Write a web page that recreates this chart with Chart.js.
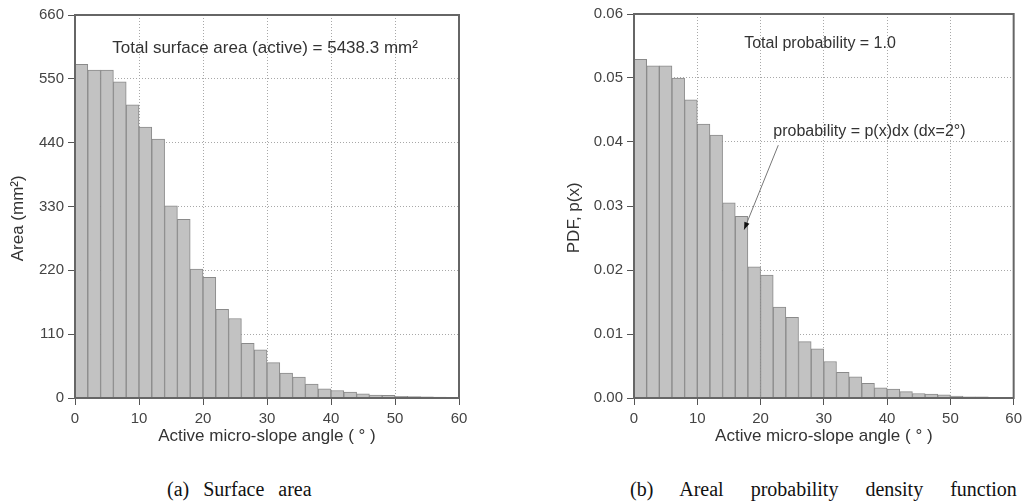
<!DOCTYPE html>
<html>
<head>
<meta charset="utf-8">
<script src="https://cdn.jsdelivr.net/npm/chart.js@4/dist/chart.umd.min.js"></script>
<style>
  body { margin: 0; background: #fff; width: 1027px; height: 504px; position: relative; overflow: hidden; }
  .box { position: absolute; top: 0; height: 450px; }
  .cap { position: absolute; top: 478px; font-family: "Liberation Serif", "Times New Roman", serif; font-size: 20px; color: #111; white-space: pre; }
</style>
</head>
<body>
<div class="box" style="left:0;width:500px"><canvas id="areaChart"></canvas></div>
<div class="box" style="left:520px;width:507px"><canvas id="pdfChart"></canvas></div>
<div class="cap" style="left:167px;word-spacing:9px">(a) Surface area</div>
<div class="cap" style="left:630px;word-spacing:22px">(b) Areal probability density function</div>

<script>
// bin centres (2 degree bins, 0-60)
const angles = [1, 3, 5, 7, 9, 11, 13, 15, 17, 19, 21, 23, 25, 27, 29,
                31, 33, 35, 37, 39, 41, 43, 45, 47, 49, 51, 53, 55, 57, 59];

// surface area per bin (mm^2)
const areaValues = [575, 565, 565, 545, 505, 467, 446, 331, 308, 222, 208, 153, 137, 94, 83,
                    61, 43, 36, 24, 16, 13, 10, 7, 5, 4.5, 3, 2.5, 2, 1.5, 1];

// areal probability density p(x)
const pdfValues = [0.0529, 0.0519, 0.0519, 0.0500, 0.0466, 0.0428, 0.0411, 0.0305, 0.0284, 0.0205,
                   0.0192, 0.0142, 0.0126, 0.0088, 0.0077, 0.0057, 0.0040, 0.0033, 0.0023, 0.0016,
                   0.0014, 0.0010, 0.0007, 0.0006, 0.0005, 0.0003, 0.0002, 0.0002, 0.0001, 0.0001];

const xTicks = [0, 10, 20, 30, 40, 50, 60];
const areaTicks = [0, 110, 220, 330, 440, 550, 660];
const pdfTicks = [0, 0.01, 0.02, 0.03, 0.04, 0.05, 0.06];

const FONT = "'Liberation Sans', Arial, sans-serif";
const AXIS = '#666';
const GRID = '#a8a8a8';

// draws the closed frame round the plot and the text notes
const framePlugin = {
    id: 'frame',
    afterDatasetsDraw(chart, args, opts) {
        const { ctx, chartArea: a, scales } = chart;
        ctx.save();
        ctx.strokeStyle = AXIS;
        ctx.lineWidth = 2;
        ctx.strokeRect(a.left, a.top, a.right - a.left, a.bottom - a.top);

        ctx.fillStyle = '#333';
        ctx.textAlign = 'center';
        ctx.textBaseline = 'middle';
        (opts.notes || []).forEach(n => {
            ctx.font = (n.size || 16) + 'px ' + FONT;
            ctx.fillText(n.text, scales.x.getPixelForValue(n.x), scales.y.getPixelForValue(n.y));
        });

        if (opts.arrow) {
            const x1 = scales.x.getPixelForValue(opts.arrow.from[0]);
            const y1 = scales.y.getPixelForValue(opts.arrow.from[1]);
            const x2 = scales.x.getPixelForValue(opts.arrow.to[0]);
            const y2 = scales.y.getPixelForValue(opts.arrow.to[1]);
            ctx.strokeStyle = '#777';
            ctx.lineWidth = 1;
            ctx.beginPath();
            ctx.moveTo(x1, y1);
            ctx.lineTo(x2, y2);
            ctx.stroke();
            const ang = Math.atan2(y2 - y1, x2 - x1);
            ctx.fillStyle = '#111';
            ctx.beginPath();
            ctx.moveTo(x2, y2);
            ctx.lineTo(x2 - 8 * Math.cos(ang - 0.35), y2 - 8 * Math.sin(ang - 0.35));
            ctx.lineTo(x2 - 8 * Math.cos(ang + 0.35), y2 - 8 * Math.sin(ang + 0.35));
            ctx.closePath();
            ctx.fill();
        }
        ctx.restore();
    }
};

function makeChart(id, values, yTicks, cfg) {
    return new Chart(document.getElementById(id), {
        type: 'bar',
        data: {
            datasets: [{
                data: angles.map((a, i) => ({ x: a, y: values[i] })),
                backgroundColor: '#c2c2c2',
                borderColor: '#8a8a8a',
                borderWidth: 1,
                barPercentage: 1,
                categoryPercentage: 1
            }]
        },
        options: {
            responsive: true,
            maintainAspectRatio: false,
            animation: false,
            layout: { padding: { top: cfg.top, right: cfg.right, left: 0, bottom: 0 } },
            plugins: {
                legend: { display: false },
                tooltip: { enabled: false },
                frame: { notes: cfg.notes, arrow: cfg.arrow }
            },
            scales: {
                x: {
                    type: 'linear',
                    min: 0,
                    max: 60,
                    offset: false,
                    afterBuildTicks: s => { s.ticks = xTicks.map(v => ({ value: v })); },
                    afterFit: s => { s.height = 52; },
                    grid: { color: GRID, tickColor: '#555', tickLength: 7, tickBorderDash: [], offset: false },
                    border: { color: AXIS, width: 2, dash: [1, 2] },
                    ticks: { color: '#444', font: { family: FONT, size: 15 }, padding: 5, maxRotation: 0 },
                    title: {
                        display: true,
                        text: 'Active micro-slope angle ( ° )',
                        color: '#333',
                        font: { family: FONT, size: 17 },
                        padding: { top: 0, bottom: 3 }
                    }
                },
                y: {
                    min: 0,
                    max: yTicks[yTicks.length - 1],
                    afterBuildTicks: s => { s.ticks = yTicks.map(v => ({ value: v })); },
                    afterFit: s => { s.width = cfg.yWidth; },
                    grid: { color: GRID, tickColor: '#555', tickLength: 7, tickBorderDash: [] },
                    border: { color: AXIS, width: 2, dash: [1, 2] },
                    ticks: { color: '#444', font: { family: FONT, size: 15 }, padding: 4, callback: cfg.fmt },
                    title: {
                        display: true,
                        text: cfg.yTitle,
                        color: '#333',
                        font: { family: FONT, size: 17 },
                        padding: { top: cfg.yTitlePad, bottom: 0 }
                    }
                }
            }
        },
        plugins: [framePlugin]
    });
}

makeChart('areaChart', areaValues, areaTicks, {
    top: 15, right: 41, yWidth: 75, yTitlePad: 8,
    yTitle: 'Area (mm²)     ',
    fmt: v => v,
    notes: [{ text: 'Total surface area (active) = 5438.3 mm²', x: 29.7, y: 603, size: 17 }]
});

makeChart('pdfChart', pdfValues, pdfTicks, {
    top: 14, right: 9, yWidth: 114, yTitlePad: 44,
    yTitle: 'PDF, p(x)     ',
    fmt: v => v.toFixed(2),
    notes: [
        { text: 'Total probability = 1.0', x: 29.4, y: 0.0553, size: 16 },
        { text: 'probability = p(x)dx (dx=2°)', x: 37.2, y: 0.0417, size: 16 }
    ],
    arrow: { from: [22.8, 0.0395], to: [17.4, 0.0263] }
});
</script>
</body>
</html>
